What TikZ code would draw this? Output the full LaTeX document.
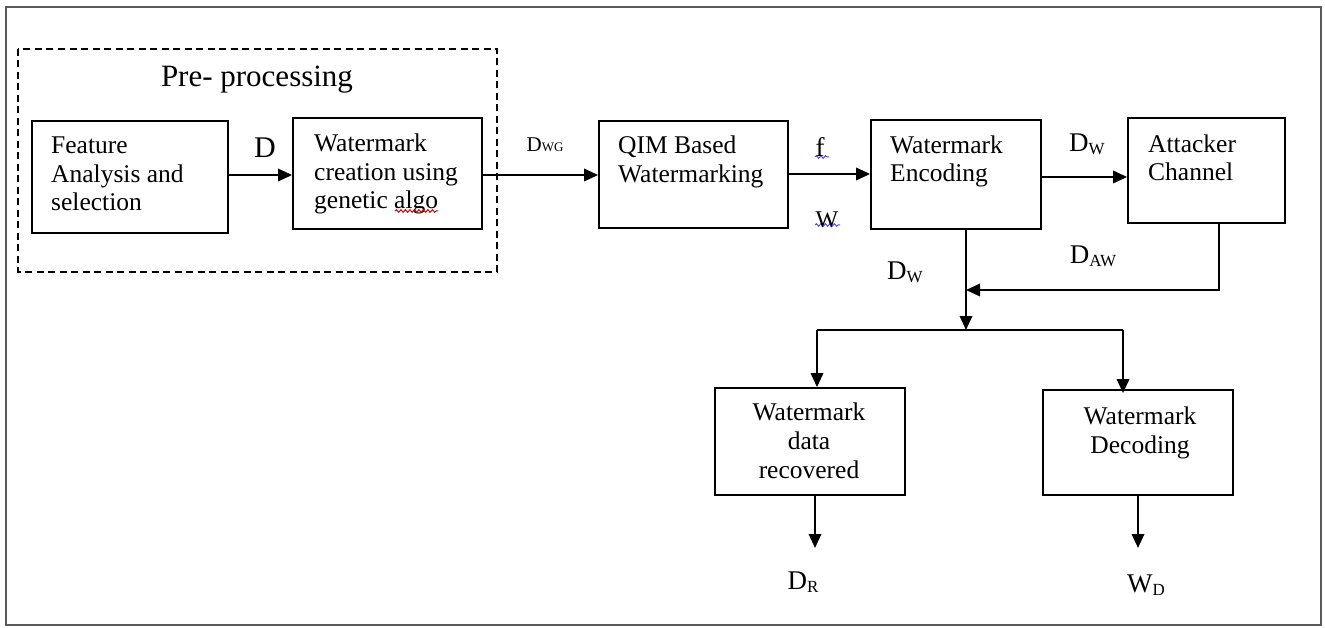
\documentclass[tikz,border=0pt]{standalone}
\usepackage{fontspec}
\setmainfont{Liberation Serif}
\usetikzlibrary{arrows.meta,decorations.pathmorphing}
\newcommand\lowsub[1]{\raisebox{-3pt}{\fontsize{17}{17}\selectfont #1}}
\begin{document}
\begin{tikzpicture}[x=1pt,y=-1pt,
  box/.style={draw, line width=1.8pt, inner sep=0pt},
  txt/.style={inner sep=0pt, align=left, font=\fontsize{25.5}{28.5}\selectfont},
  ctxt/.style={inner sep=0pt, align=center, font=\fontsize{25.5}{29}\selectfont},
  lbl/.style={inner sep=0pt, font=\fontsize{27}{27}\selectfont},
  arr/.style={line width=1.8pt, -{Triangle[length=14pt,width=12.5pt]}},
  ln/.style={line width=1.8pt},
  wavy/.style={decorate, decoration={snake, amplitude=1.3pt, segment length=4.5pt}, line width=1pt}
]
\useasboundingbox (0,0) rectangle (1325,628);
\draw[line width=2.2pt, black!65] (6,7) rectangle (1321,625);
% dashed pre-processing group
\draw[line width=1.8pt, dash pattern=on 7pt off 4.5pt] (18,49) rectangle (497,272);
\node[inner sep=0pt, font=\fontsize{31}{31}\selectfont] (pre) at (257,80) {Pre- processing};

% boxes
\node[box, minimum width=196pt, minimum height=112pt] (fa)  at (130,177) {};
\node[box, minimum width=189pt, minimum height=111pt] (wc)  at (387.5,173.5) {};
\node[box, minimum width=189pt, minimum height=107pt] (qim) at (693.5,174.5) {};
\node[box, minimum width=170pt, minimum height=109pt] (enc) at (956,174.5) {};
\node[box, minimum width=157pt, minimum height=105pt] (att) at (1206.5,170.5) {};
\node[box, minimum width=190pt, minimum height=107pt] (rec) at (810,441.5) {};
\node[box, minimum width=190pt, minimum height=105pt] (dec) at (1138,442.5) {};

% box texts
\node[txt, anchor=west] (tfa)  at (51,174)  {Feature\\Analysis and\\selection};
\node[txt, anchor=west] (twc)  at (314,174) {Watermark\\creation using\\genetic algo};
\node[txt, anchor=west] (tqim) at (618,162) {QIM Based\\Watermarking};
\node[txt, anchor=west] (tenc) at (890,161.5) {Watermark\\Encoding};
\node[txt, anchor=west] (tatt) at (1148,158) {Attacker\\Channel};
\node[ctxt] (trec) at (809,441) {Watermark\\data\\recovered};
\node[ctxt] (tdec) at (1140,432.5) {Watermark\\Decoding};

% spell-check underlines
\draw[wavy, red!85!black] (395,211) -- (438,211);
\draw[wavy, blue!70] (815,157) -- (829,157);
\draw[wavy, blue!70] (815,225) -- (840,225);

% labels
\node[inner sep=0pt, font=\fontsize{30}{30}\selectfont] (lD) at (265,148) {D};
\node[inner sep=0pt] (lDwg) at (545,145) {\fontsize{21}{21}\selectfont D\fontsize{13}{13}\selectfont WG};
\node[lbl] (lf) at (820,147) {f};
\node[lbl, font=\fontsize{24}{24}\selectfont] (lw) at (827,220) {W};
\node[lbl] (lDw1) at (1087,144) {D\lowsub{W}};
\node[lbl] (lDaw) at (1093,256) {D\lowsub{AW}};
\node[lbl] (lDw2) at (905,272) {D\lowsub{W}};
\node[lbl] (lDr) at (803,582) {D\lowsub{R}};
\node[lbl] (lWd) at (1146,585) {W\lowsub{D}};

% connectors
\draw[arr] (fa.east |- 0,175) -- (wc.west |- 0,175);
\draw[arr] (wc.east |- 0,175) -- (qim.west |- 0,175);
\draw[arr] (qim.east |- 0,174) -- (enc.west |- 0,174);
\draw[arr] (enc.east |- 0,177) -- (att.west |- 0,177);

\coordinate (m) at (966,330);
\coordinate (j) at (966,290);
\coordinate (as) at (1219,223);
\coordinate (sl) at (817,330);
\coordinate (sr) at (1123,330);
\draw[arr] (enc.south -| m) -- (m);
\draw[arr] (as) |- (j);
\draw[ln] (sl) -- (sr);
\draw[arr] (sl) -- (sl |- rec.north);
\draw[arr] (sr) -- ([yshift=-4pt]sr |- dec.north);
\draw[arr] (rec.south -| 815,0) -- (815,548);
\draw[arr] (dec.south) -- (dec.south |- 0,548);
\end{tikzpicture}
\end{document}
